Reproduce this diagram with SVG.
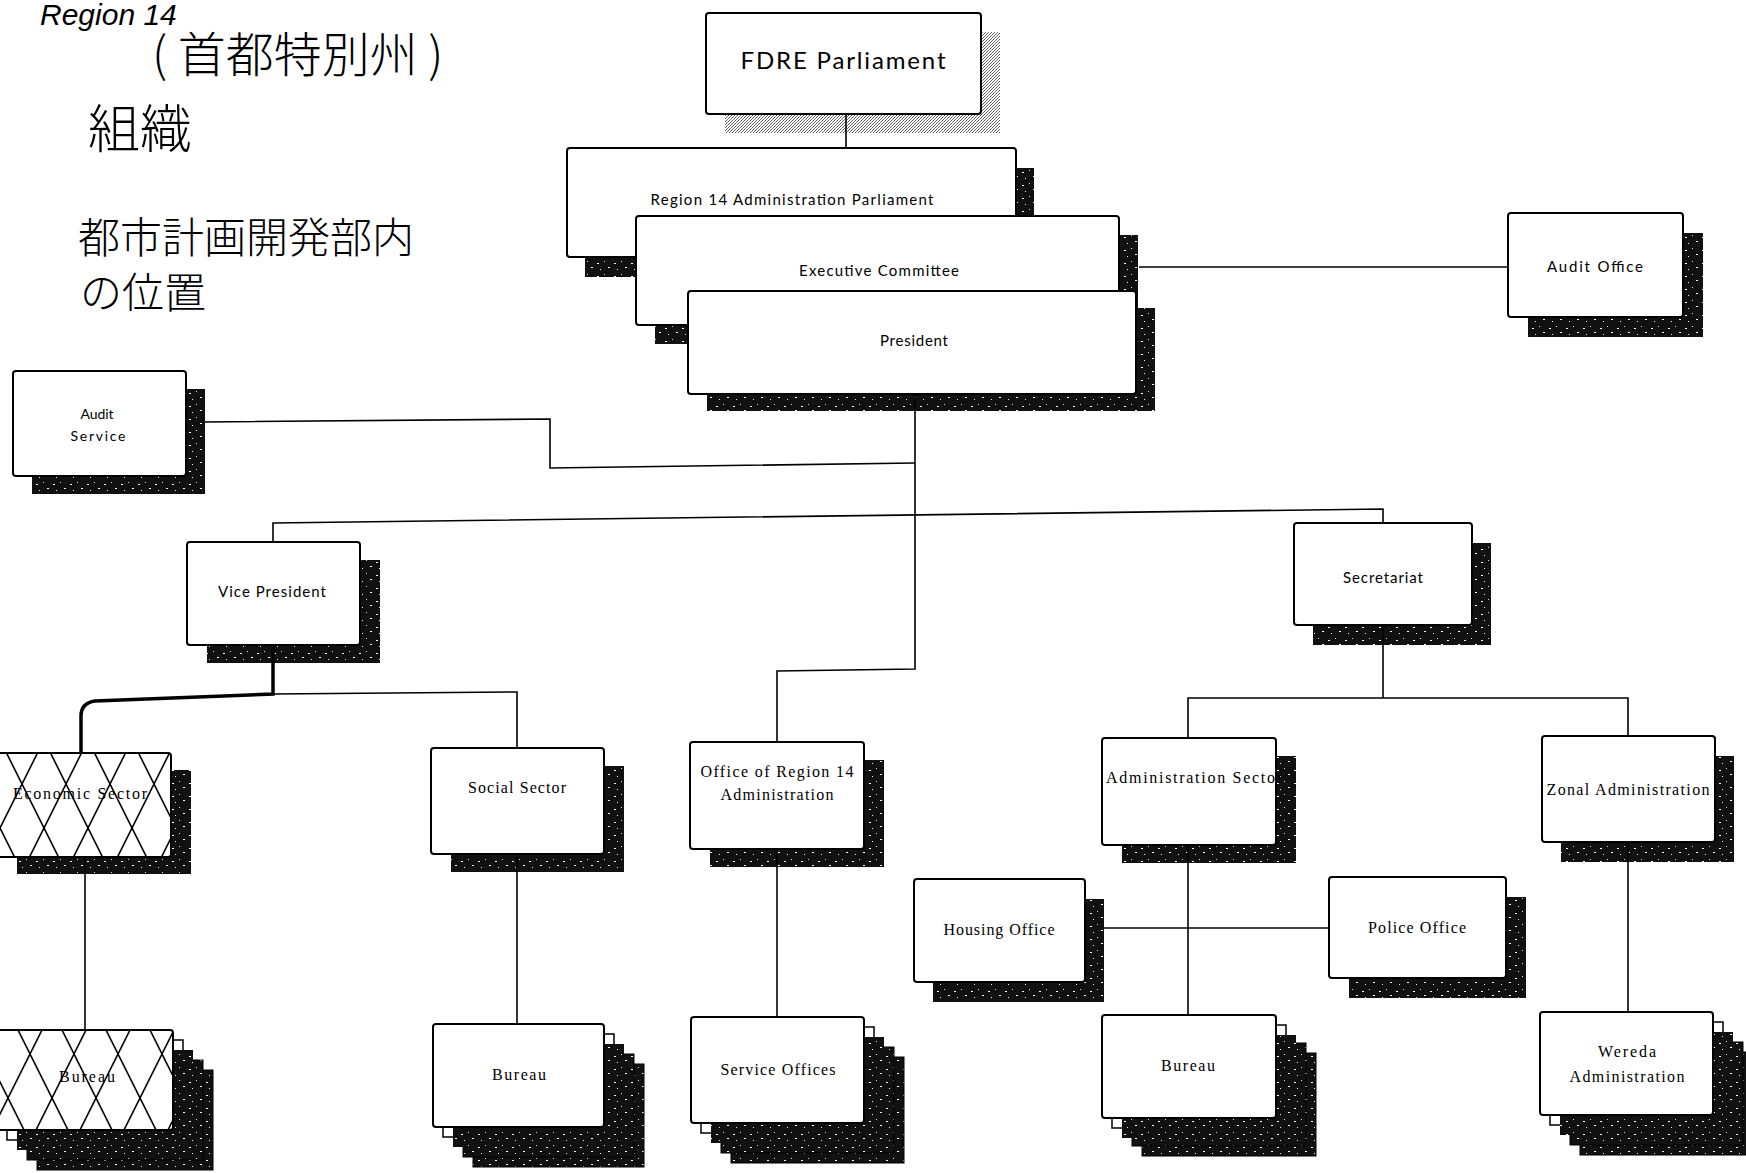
<svg xmlns="http://www.w3.org/2000/svg" width="1746" height="1173" viewBox="0 0 1746 1173">
<defs>
<pattern id="dk" width="17" height="13" patternUnits="userSpaceOnUse">
<rect width="17" height="13" fill="#111"/>
<rect x="2" y="3" width="2" height="1" fill="#fff"/>
<rect x="9" y="1" width="1" height="1" fill="#ddd"/>
<rect x="13" y="7" width="2" height="1" fill="#fff"/>
<rect x="5" y="9" width="1" height="1" fill="#eee"/>
</pattern>
<pattern id="lt" width="3" height="3" patternUnits="userSpaceOnUse">
<rect width="3" height="3" fill="#fff"/>
<rect x="0" y="0" width="1" height="1" fill="#555"/>
<rect x="2" y="1" width="1" height="1" fill="#666"/>
<rect x="1" y="2" width="1" height="1" fill="#777"/>
</pattern>
<pattern id="xh" width="44" height="88" patternUnits="userSpaceOnUse" x="0" y="740">
<rect width="44" height="88" fill="#fff"/>
<path d="M0 0L44 88M44 0L0 88" stroke="#000" stroke-width="1.6"/>
</pattern>
<pattern id="xh2" width="44" height="88" patternUnits="userSpaceOnUse" x="8" y="1010">
<rect width="44" height="88" fill="#fff"/>
<path d="M0 0L44 88M44 0L0 88" stroke="#000" stroke-width="1.6"/>
</pattern>
</defs>
<style>
.box{fill:#fff;stroke:#000;stroke-width:2}
.hx{fill:url(#xh);stroke:#000;stroke-width:2}
.hx2{fill:url(#xh2);stroke:#000;stroke-width:2}
.sh{fill:url(#dk)}
.shl{fill:url(#lt)}
.card{fill:#fff;stroke:#000;stroke-width:1.5}
.bk{fill:url(#dk);stroke:#000;stroke-width:1}
.sa{font-family:"Lato","Liberation Sans",sans-serif;font-size:15px;text-anchor:middle;fill:#000}
.big{font-size:24px}
.sm{font-size:14px}
.se{font-family:"Liberation Serif","Times New Roman",serif;font-size:16px;text-anchor:middle;fill:#000}
.hw{font-family:"Noto Sans CJK JP","Noto Sans CJK SC",sans-serif;font-weight:300;fill:#000}
.cn{fill:none;stroke:#000;stroke-width:1.6}
.thick{stroke-width:3.5}
</style>
<rect width="1746" height="1173" fill="#fff"/>

<g id="notes">
<text x="40" y="25" font-family="Liberation Sans,sans-serif" font-size="30" font-style="italic" fill="#000">Region 14</text>
<text class="hw" x="152" y="72" font-size="48">( 首都特別州 )</text>
<text class="hw" x="88" y="148" font-size="52">組織</text>
<text class="hw" x="78" y="253" font-size="42">都市計画開発部内</text>
<text class="hw" x="80" y="308" font-size="42">の位置</text>
</g>

<g id="fdre-parliament">
<rect class="shl" x="725" y="32" width="275" height="101"/>
<rect class="box" x="706" y="13" width="275" height="101" rx="3"/>
<text class="sa big" x="843" y="69" textLength="205">FDRE Parliament</text>
</g>

<g id="region14-parliament">
<rect class="sh" x="585" y="168" width="449" height="109"/>
<rect class="box" x="567" y="148" width="449" height="109" rx="3"/>
<text class="sa" x="792" y="205" textLength="283">Region 14 Administration Parliament</text>
</g>

<g id="executive-committee">
<rect class="sh" x="655" y="235" width="483" height="109"/>
<rect class="box" x="636" y="216" width="483" height="109" rx="3"/>
<text class="sa" x="879" y="276" textLength="160">Executive Committee</text>
</g>

<g id="president">
<rect class="sh" x="707" y="308" width="448" height="103"/>
<rect class="box" x="688" y="291" width="448" height="103" rx="3"/>
<text class="sa" x="914" y="346" textLength="68">President</text>
</g>

<g id="audit-office">
<rect class="sh" x="1528" y="233" width="175" height="104"/>
<rect class="box" x="1508" y="213" width="175" height="104" rx="3"/>
<text class="sa" x="1595" y="272" textLength="96">Audit Office</text>
</g>

<g id="audit-service">
<rect class="sh" x="32" y="389" width="173" height="105"/>
<rect class="box" x="13" y="371" width="173" height="105" rx="3"/>
<text class="sa sm" x="97" y="419" textLength="33">Audit</text>
<text class="sa sm" x="98" y="441" textLength="55">Service</text>
</g>

<g id="vice-president">
<rect class="sh" x="207" y="560" width="173" height="103"/>
<rect class="box" x="187" y="542" width="173" height="103" rx="3"/>
<text class="sa" x="272" y="597" textLength="108">Vice President</text>
</g>

<g id="secretariat">
<rect class="sh" x="1313" y="543" width="178" height="102"/>
<rect class="box" x="1294" y="523" width="178" height="102" rx="3"/>
<text class="sa" x="1383" y="583" textLength="80">Secretariat</text>
</g>

<g id="economic-sector">
<rect class="sh" x="17" y="770" width="174" height="104"/>
<rect class="hx" x="-3" y="753" width="174" height="104" rx="3"/>
<text class="se" x="80" y="799" textLength="134">Economic Sector</text>
</g>

<g id="social-sector">
<rect class="sh" x="451" y="766" width="173" height="106"/>
<rect class="box" x="431" y="748" width="173" height="106" rx="3"/>
<text class="se" x="517" y="793" textLength="98">Social Sector</text>
</g>

<g id="office-region14-administration">
<rect class="sh" x="710" y="760" width="174" height="107"/>
<rect class="box" x="690" y="742" width="174" height="107" rx="3"/>
<text class="se" x="777" y="777" textLength="153">Office of Region 14</text>
<text class="se" x="777" y="800" textLength="113">Administration</text>
</g>

<g id="housing-office">
<rect class="sh" x="933" y="899" width="171" height="103"/>
<rect class="box" x="914" y="879" width="171" height="103" rx="3"/>
<text class="se" x="999" y="935" textLength="111">Housing Office</text>
</g>

<g id="administration-sector">
<rect class="sh" x="1122" y="756" width="174" height="107"/>
<rect class="box" x="1102" y="738" width="174" height="107" rx="3"/>
<text class="se" x="1194" y="783" textLength="176">Administration Sector</text>
</g>

<g id="police-office">
<rect class="sh" x="1349" y="897" width="177" height="101"/>
<rect class="box" x="1329" y="877" width="177" height="101" rx="3"/>
<text class="se" x="1417" y="933" textLength="98">Police Office</text>
</g>

<g id="zonal-administration">
<rect class="sh" x="1561" y="756" width="173" height="106"/>
<rect class="box" x="1542" y="736" width="173" height="106" rx="3"/>
<text class="se" x="1628" y="795" textLength="163">Zonal Administration</text>
</g>

<g id="economic-bureau">
<rect class="bk" x="37" y="1070" width="176" height="100"/>
<rect class="bk" x="27" y="1060" width="176" height="100"/>
<rect class="card" x="7" y="1040" width="176" height="100"/>
<rect class="sh" x="17" y="1050" width="176" height="100"/>
<rect class="hx2" x="-3" y="1030" width="176" height="100" rx="3"/>
<text class="se" x="87" y="1082" textLength="56">Bureau</text>
</g>

<g id="social-bureau">
<rect class="bk" x="473" y="1064" width="171" height="103"/>
<rect class="bk" x="463" y="1054" width="171" height="103"/>
<rect class="card" x="443" y="1034" width="171" height="103"/>
<rect class="sh" x="453" y="1044" width="171" height="103"/>
<rect class="box" x="433" y="1024" width="171" height="103" rx="3"/>
<text class="se" x="519" y="1080" textLength="54">Bureau</text>
</g>

<g id="service-offices">
<rect class="bk" x="731" y="1057" width="173" height="106"/>
<rect class="bk" x="721" y="1047" width="173" height="106"/>
<rect class="card" x="701" y="1027" width="173" height="106"/>
<rect class="sh" x="711" y="1037" width="173" height="106"/>
<rect class="box" x="691" y="1017" width="173" height="106" rx="3"/>
<text class="se" x="778" y="1075" textLength="115">Service Offices</text>
</g>

<g id="administration-bureau">
<rect class="bk" x="1142" y="1053" width="174" height="103"/>
<rect class="bk" x="1132" y="1043" width="174" height="103"/>
<rect class="card" x="1112" y="1025" width="174" height="103"/>
<rect class="sh" x="1122" y="1035" width="174" height="103"/>
<rect class="box" x="1102" y="1015" width="174" height="103" rx="3"/>
<text class="se" x="1188" y="1071" textLength="54">Bureau</text>
</g>

<g id="wereda-administration">
<rect class="bk" x="1580" y="1052" width="173" height="103"/>
<rect class="bk" x="1570" y="1042" width="173" height="103"/>
<rect class="card" x="1550" y="1022" width="173" height="103"/>
<rect class="sh" x="1560" y="1032" width="173" height="103"/>
<rect class="box" x="1540" y="1012" width="173" height="103" rx="3"/>
<text class="se" x="1627" y="1057" textLength="58">Wereda</text>
<text class="se" x="1627" y="1082" textLength="115">Administration</text>
</g>

<g id="connectors" class="cn">
<path d="M846 114V148"/>
<path d="M1139 267H1508"/>
<path d="M915 394V669L777 671V742"/>
<path d="M205 422L550 419V468L915 463"/>
<path d="M273 542V523L1383 509V523"/>
<path d="M273 694L517 692V748"/>
<path class="thick" d="M273 645V694L95 701Q81 703 81 716V753"/>
<path d="M85 857V1030"/>
<path d="M517 854V1024"/>
<path d="M777 849V1017"/>
<path d="M1383 625V698M1188 738V698H1628V736"/>
<path d="M1188 845V1015"/>
<path d="M1104 928H1329"/>
<path d="M1628 842V1012"/>
</g>
</svg>
